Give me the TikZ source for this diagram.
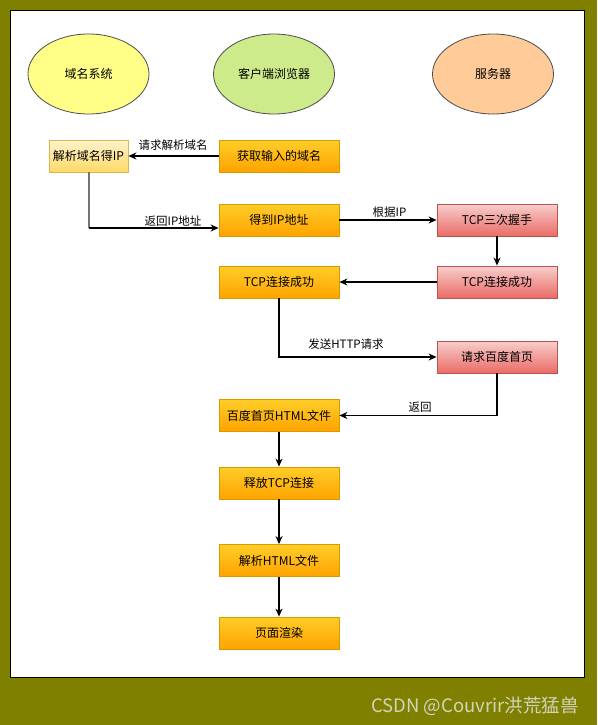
\documentclass[tikz,border=0pt]{standalone}
\usepackage{fontspec}
\setmainfont{Noto Sans CJK SC}
\usetikzlibrary{arrows.meta,shapes.geometric}
\definecolor{olivebg}{HTML}{808000}
\definecolor{wm}{RGB}{212,212,190}
\tikzset{
  every node/.style={font=\fontsize{12pt}{14pt}\selectfont, text=black},
  ell/.style={ellipse, draw=black!70, line width=0.8pt, minimum width=121pt, minimum height=80pt, inner sep=0pt},
  obox/.style={rectangle, draw={rgb,255:red,215;green,155;blue,0}, line width=0.8pt, top color={rgb,255:red,255;green,205;blue,40}, bottom color={rgb,255:red,255;green,163;blue,0}, minimum width=120pt, minimum height=32pt, inner sep=0pt},
  ybox/.style={rectangle, draw={rgb,255:red,214;green,182;blue,86}, line width=0.8pt, top color={rgb,255:red,255;green,242;blue,204}, bottom color={rgb,255:red,255;green,217;blue,102}, minimum width=79pt, minimum height=32pt, inner sep=0pt},
  rbox/.style={rectangle, draw={rgb,255:red,184;green,84;blue,80}, line width=0.8pt, top color={rgb,255:red,248;green,206;blue,204}, bottom color={rgb,255:red,234;green,107;blue,102}, minimum width=120pt, minimum height=32pt, inner sep=0pt},
  conn/.style={draw=black, line width=1.2pt, -{Stealth[length=8pt,width=7pt,inset=2.5pt]}},
  lbl/.style={font=\fontsize{11.5pt}{13pt}\selectfont, inner sep=0pt},
}
\begin{document}
\begin{tikzpicture}[x=1pt,y=-1pt]
\fill[olivebg] (0,0) rectangle (597,725);
\useasboundingbox (0,0) rectangle (597,725);
\draw[fill=white, line width=1pt] (10,11) rectangle (584,677);

\node[ell, fill={rgb,255:red,255;green,255;blue,136}] (dnsys) at (88.5,74) {域名系统};
\node[ell, fill={rgb,255:red,205;green,235;blue,139}] (client) at (274,74) {客户端浏览器};
\node[ell, fill={rgb,255:red,255;green,204;blue,153}] (server) at (493,74) {服务器};

\node[ybox] (dns) at (88.5,156) {解析域名得IP};
\node[obox] (get) at (279,156) {获取输入的域名};
\node[obox] (ip) at (279,220) {得到IP地址};
\node[rbox] (tcp3) at (497,220) {TCP三次握手};
\node[obox] (tcpL) at (279,282) {TCP连接成功};
\node[rbox] (tcpR) at (497,282) {TCP连接成功};
\node[rbox] (req) at (497,357) {请求百度首页};
\node[obox] (html) at (279,415.5) {百度首页HTML文件};
\node[obox] (rel) at (279,483) {释放TCP连接};
\node[obox] (parse) at (279,560.5) {解析HTML文件};
\node[obox] (render) at (279,633) {页面渲染};

\coordinate (ipin) at ([yshift=-8pt]ip.west);
\coordinate (dnsturn) at (dns.south |- ipin);
\draw[conn] (get.west) -- (dns.east);
\draw[draw=black!55, line width=2pt] (dns.south) -- (dnsturn);
\draw[conn] (dnsturn) -- (ipin);
\draw[conn] (ip.east) -- (tcp3.west);
\draw[conn] (tcp3.south) -- (tcpR.north);
\draw[conn] (tcpR.west) -- (tcpL.east);
\draw[conn] (tcpL.south) |- (req.west);
\draw[conn] (req.south) |- (html.east);
\draw[conn] (html.south) -- (rel.north);
\draw[conn] (rel.south) -- (parse.north);
\draw[conn] (parse.south) -- (render.north);

\node[lbl] (l1) at (173,145) {请求解析域名};
\node[lbl] (l2) at (173,221) {返回IP地址};
\node[lbl] (l3) at (389.5,212) {根据IP};
\node[lbl] (l4) at (346,344) {发送HTTP请求};
\node[lbl] (l5) at (420,407) {返回};

\node[font=\fontsize{18.5pt}{20pt}\selectfont, text=wm, inner sep=0pt] (wmk) at (475,706) {CSDN @Couvrir洪荒猛兽};
\end{tikzpicture}
\end{document}
